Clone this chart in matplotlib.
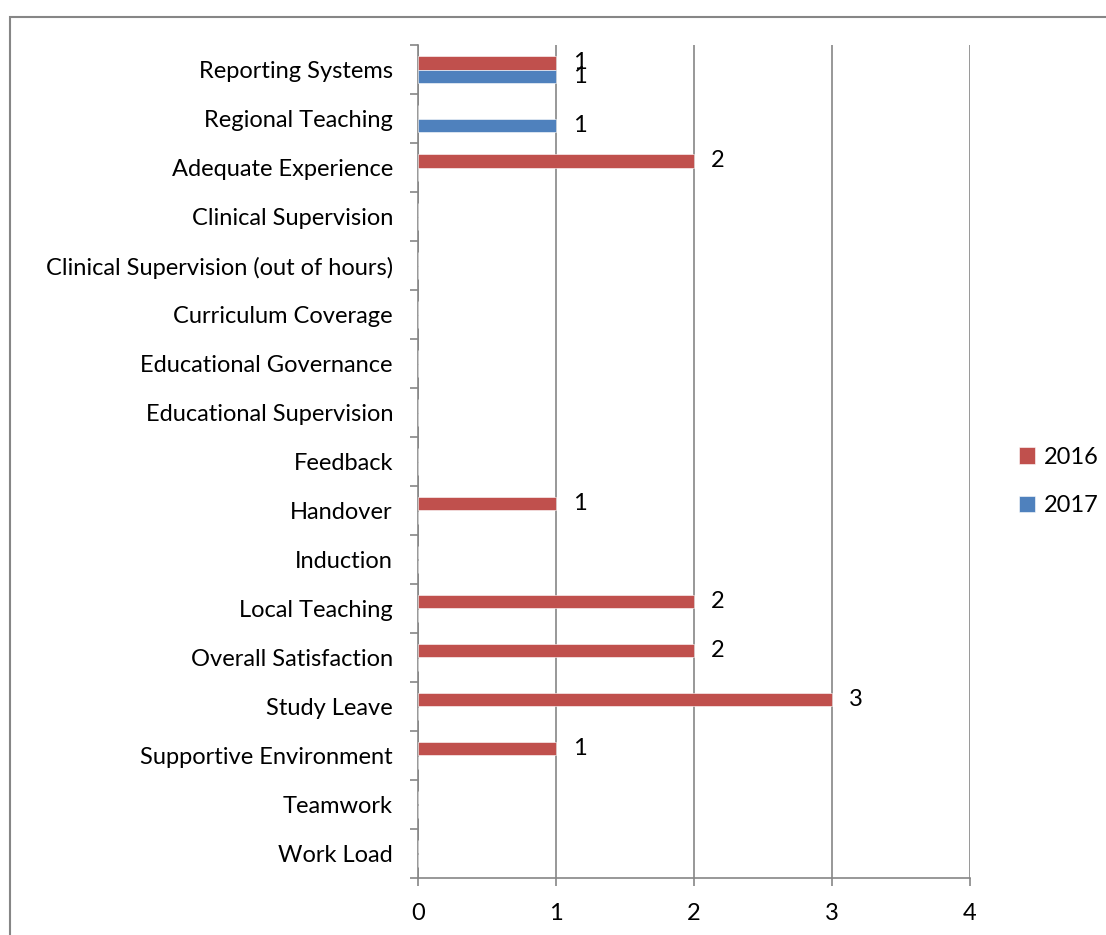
import numpy as np
import matplotlib.pyplot as plt
from matplotlib.patches import Rectangle

plt.rcParams['font.family'] = ['Lato', 'DejaVu Sans']

categories = ['Reporting Systems', 'Regional Teaching', 'Adequate Experience',
              'Clinical Supervision', 'Clinical Supervision (out of hours)',
              'Curriculum Coverage', 'Educational Governance',
              'Educational Supervision', 'Feedback', 'Handover', 'Induction',
              'Local Teaching', 'Overall Satisfaction', 'Study Leave',
              'Supportive Environment', 'Teamwork', 'Work Load']
vals_2016 = [1, 0, 2, 0, 0, 0, 0, 0, 0, 1, 0, 2, 2, 3, 1, 0, 0]
vals_2017 = [1, 1, 0, 0, 0, 0, 0, 0, 0, 0, 0, 0, 0, 0, 0, 0, 0]
series = ['2016', '2017']
colors = ['#C0504D', '#4F81BD']
grey = '#868686'
fs = 17

fig = plt.figure(figsize=(11.06, 9.35), dpi=100)
fig.patches.append(Rectangle((10 / 1106, -0.1), 1.2, 1 - 17 / 935 + 0.1,
                             transform=fig.transFigure, fill=False,
                             edgecolor=grey, linewidth=1.5))
ax = fig.add_axes([418 / 1106, 1 - 878 / 935, 552 / 1106, 833 / 935])

y = np.arange(len(categories))
h = 0.28
for vals, off, col, name in [(vals_2016, -h / 2, colors[0], series[0]),
                             (vals_2017, h / 2, colors[1], series[1])]:
    bars = ax.barh(y + off, vals, height=h, color=col, label=name,
                   edgecolor='white', linewidth=0.4, zorder=3)
    for b, v in zip(bars, vals):
        if v:
            ax.text(v + 0.12, b.get_y() + b.get_height() / 2, str(v),
                    va='center', ha='left', fontsize=fs, zorder=4)

ax.set_xlim(0, 4)
ax.set_ylim(len(categories) - 0.5, -0.5)
ax.set_xticks(range(5))
ax.set_yticks(y)
ax.set_yticklabels(categories)
ax.set_yticks(np.arange(len(categories) + 1) - 0.5, minor=True)
ax.tick_params(axis='y', which='major', length=0, pad=18, labelsize=fs)
ax.tick_params(axis='y', which='minor', length=6, color=grey, width=1.2)
ax.tick_params(axis='x', length=6, color=grey, width=1.2, pad=12, labelsize=fs)
ax.grid(axis='x', color=grey, linewidth=1.2, zorder=0)
for s in ['top', 'right']:
    ax.spines[s].set_visible(False)
for s in ['left', 'bottom']:
    ax.spines[s].set_color(grey)
    ax.spines[s].set_linewidth(1.2)

ax.legend(loc='center left', bbox_to_anchor=(1.05, 0.476), frameon=False,
          fontsize=fs, handlelength=0.7, handleheight=0.7, labelspacing=1.15,
          handletextpad=0.35)

fig.savefig('out.png', dpi=100)
